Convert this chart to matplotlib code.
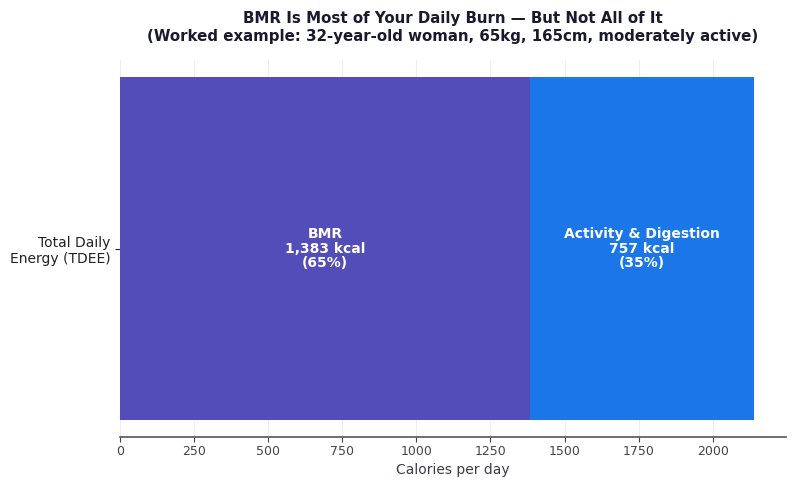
import matplotlib
matplotlib.use("Agg")
import matplotlib.pyplot as plt

category = ["Total Daily\nEnergy (TDEE)"]
segment_names = ["BMR", "Activity & Digestion"]
segment_values = [1383, 757]
segment_colors = ["#524DB8", "#1B76E8"]

total = sum(segment_values)

fig, ax = plt.subplots(figsize=(8, 4.88), dpi=100)
fig.subplots_adjust(left=0.15, right=0.9825, bottom=0.1045, top=0.877)

left = 0
for name, val, col in zip(segment_names, segment_values, segment_colors):
    ax.barh(category, [val], left=[left], color=col, height=0.8, zorder=2)
    pct = val / total * 100
    ax.text(left + val / 2, 0, f"{name}\n{val:,} kcal\n({pct:.0f}%)",
            ha="center", va="center", color="white", fontsize=10,
            fontweight="bold", linespacing=1.05, zorder=3)
    left += val

ax.set_xlim(0, total * 1.05)
ax.set_xlabel("Calories per day", fontsize=10, color="#3a3a4a", labelpad=3)
ax.set_title("BMR Is Most of Your Daily Burn \u2014 But Not All of It\n"
             "(Worked example: 32-year-old woman, 65kg, 165cm, moderately active)",
             fontsize=10.8, fontweight="bold", color="#1a1a2e", pad=14)

ax.grid(axis="x", color="#eeeeee", linewidth=0.8, zorder=0)
for s in ["top", "right", "left"]:
    ax.spines[s].set_visible(False)
ax.spines["bottom"].set_color("#555555")
ax.spines["bottom"].set_linewidth(1.2)
ax.tick_params(axis="x", colors="#444444", labelsize=9, pad=2.5)
ax.tick_params(axis="y", labelsize=10, colors="#222222")

fig.savefig("out.png", dpi=100)
